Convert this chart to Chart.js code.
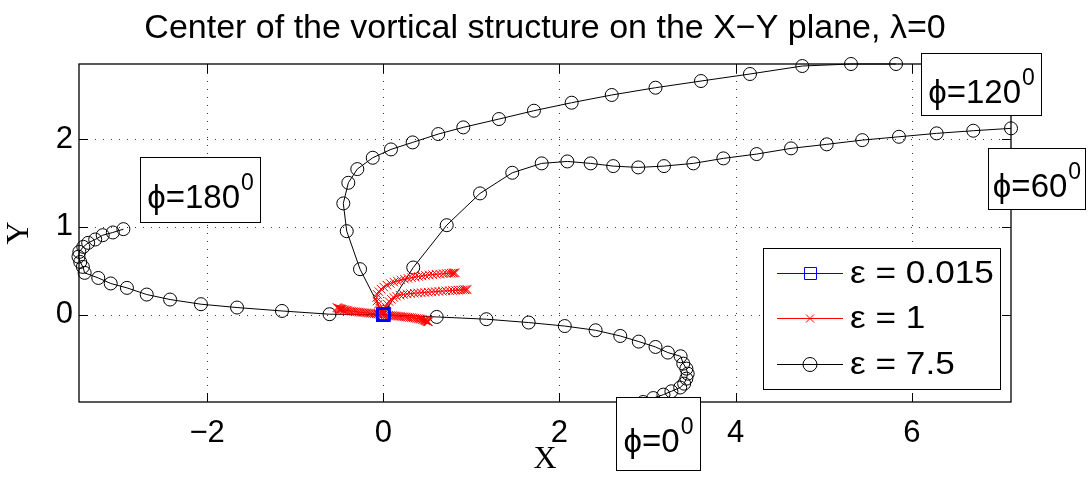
<!DOCTYPE html>
<html><head><meta charset="utf-8">
<script src="https://cdn.jsdelivr.net/npm/chart.js@4"></script>
<style>html,body{margin:0;padding:0;background:#fff;}#wrap{width:1091px;height:479px;}</style>
</head><body><div id="wrap"><canvas id="c" width="1091" height="479"></canvas></div>
<script>
const chartTitle = 'Center of the vortical structure on the X\u2212Y plane, \u03bb=0';
const xTicks = [-2, 0, 2, 4, 6];
const yTicks = [0, 1, 2];
const xLimits = [-3.454, 7.125];
const yLimits = [-0.995, 2.855];
const legendLabels = ['\u03b5 = 0.015', '\u03b5 = 1', '\u03b5 = 7.5'];

// epsilon = 7.5, four initial angles
const e75_phi0_x = [0, 0.606, 1.17, 1.65, 2.06, 2.41, 2.69, 2.90, 3.09, 3.23, 3.375, 3.405, 3.44, 3.455, 3.44, 3.415, 3.37, 3.27, 3.18, 3.065, 2.95];
const e75_phi0_y = [0, -0.026, -0.052, -0.09, -0.13, -0.178, -0.243, -0.307, -0.368, -0.432, -0.474, -0.558, -0.615, -0.672, -0.729, -0.786, -0.83, -0.873, -0.911, -0.95, -0.995];
const e75_phi60_x = [0, 0.34, 0.72, 1.098, 1.464, 1.798, 2.089, 2.354, 2.61, 2.894, 3.186, 3.519, 3.86, 4.238, 4.628, 5.033, 5.437, 5.853, 6.281, 6.697, 7.125];
const e75_phi60_y = [0, 0.537, 1.019, 1.381, 1.616, 1.723, 1.745, 1.723, 1.692, 1.677, 1.692, 1.723, 1.78, 1.829, 1.894, 1.94, 1.988, 2.026, 2.065, 2.095, 2.122];
const e75_phi120_x = [0, -0.264, -0.415, -0.454, -0.397, -0.295, -0.12, 0.087, 0.333, 0.624, 0.908, 1.313, 1.71, 2.138, 2.593, 3.09, 3.606, 4.162, 4.756, 5.309, 5.82];
const e75_phi120_y = [0, 0.518, 0.951, 1.267, 1.502, 1.658, 1.787, 1.882, 1.962, 2.057, 2.133, 2.228, 2.323, 2.414, 2.502, 2.585, 2.661, 2.741, 2.832, 2.855, 2.855];
const e75_phi180_x = [0, -0.61, -1.15, -1.66, -2.07, -2.42, -2.685, -2.91, -3.094, -3.235, -3.39, -3.41, -3.44, -3.46, -3.45, -3.405, -3.35, -3.27, -3.185, -3.07, -2.95];
const e75_phi180_y = [0, 0.005, 0.042, 0.081, 0.119, 0.172, 0.229, 0.305, 0.355, 0.418, 0.476, 0.544, 0.60, 0.66, 0.715, 0.772, 0.818, 0.856, 0.905, 0.936, 0.974];

// epsilon = 1, four initial angles
const e1_phi0_x = [0, 0.02, 0.04, 0.06, 0.08, 0.10, 0.12, 0.14, 0.16, 0.18, 0.20, 0.22, 0.24, 0.26, 0.28, 0.30, 0.32, 0.34, 0.36, 0.38, 0.40, 0.415, 0.43, 0.445, 0.46, 0.47, 0.48, 0.49, 0.497, 0.503, 0.508, 0.512];
const e1_phi0_y = [0, -0.003, -0.005, -0.007, -0.009, -0.011, -0.013, -0.015, -0.017, -0.019, -0.021, -0.023, -0.025, -0.027, -0.029, -0.031, -0.034, -0.037, -0.04, -0.043, -0.046, -0.049, -0.052, -0.056, -0.06, -0.063, -0.067, -0.071, -0.074, -0.077, -0.08, -0.083];
const e1_phi60_x = [0, 0.005, 0.015, 0.03, 0.045, 0.065, 0.09, 0.12, 0.15, 0.19, 0.23, 0.27, 0.31, 0.35, 0.39, 0.43, 0.47, 0.51, 0.55, 0.59, 0.63, 0.67, 0.71, 0.75, 0.785, 0.82, 0.85, 0.88, 0.905, 0.925, 0.94, 0.952];
const e1_phi60_y = [0, 0.03, 0.06, 0.09, 0.12, 0.15, 0.175, 0.195, 0.21, 0.222, 0.23, 0.236, 0.24, 0.244, 0.247, 0.25, 0.253, 0.256, 0.259, 0.262, 0.265, 0.268, 0.271, 0.273, 0.275, 0.277, 0.279, 0.281, 0.283, 0.284, 0.285, 0.286];
const e1_phi120_x = [0, -0.02, -0.04, -0.06, -0.072, -0.075, -0.068, -0.05, -0.025, 0.005, 0.04, 0.08, 0.12, 0.16, 0.2, 0.24, 0.28, 0.32, 0.36, 0.4, 0.44, 0.48, 0.52, 0.56, 0.6, 0.64, 0.68, 0.715, 0.745, 0.77, 0.79, 0.805, 0.818];
const e1_phi120_y = [0, 0.035, 0.075, 0.115, 0.155, 0.195, 0.23, 0.262, 0.29, 0.315, 0.337, 0.355, 0.37, 0.383, 0.394, 0.404, 0.413, 0.421, 0.428, 0.435, 0.441, 0.447, 0.452, 0.456, 0.46, 0.463, 0.466, 0.469, 0.471, 0.473, 0.474, 0.475, 0.476];
const e1_phi180_x = [0, -0.02, -0.04, -0.06, -0.08, -0.10, -0.12, -0.14, -0.16, -0.18, -0.20, -0.22, -0.24, -0.26, -0.28, -0.30, -0.32, -0.34, -0.36, -0.38, -0.40, -0.415, -0.43, -0.445, -0.46, -0.47, -0.48, -0.49, -0.5, -0.51, -0.518, -0.525];
const e1_phi180_y = [0, 0.003, 0.005, 0.007, 0.009, 0.011, 0.013, 0.015, 0.017, 0.019, 0.021, 0.023, 0.025, 0.027, 0.029, 0.031, 0.034, 0.037, 0.04, 0.043, 0.046, 0.049, 0.052, 0.055, 0.058, 0.061, 0.064, 0.067, 0.07, 0.073, 0.077, 0.081];

// epsilon = 0.015 (stays at the origin)
const e0015_x = [0, 0.002, -0.002, 0.001, -0.001];
const e0015_y = [0, 0.001, -0.001, 0.002, 0.0];

// text boxes (data coordinates of box corners)
const annoText = ['\u03d5=180', '\u03d5=120', '\u03d5=60', '\u03d5=0'];
const annoBoxes = [
  {x1: -2.762, x2: -1.400, y1: 1.795, y2: 1.054},
  {x1: 6.103, x2: 7.466, y1: 2.981, y2: 2.274},
  {x1: 6.864, x2: 7.965, y1: 1.897, y2: 1.201},
  {x1: 2.642, x2: 3.595, y1: -0.942, y2: -1.774}
];

function pts(xs, ys) { return xs.map((x, i) => ({x: x, y: ys[i]})); }

const FONT = '"Liberation Sans", Arial, Helvetica, sans-serif';
const SERIF = '"Liberation Serif", "Times New Roman", serif';

function blackSet(xs, ys) {
  return {data: pts(xs, ys), showLine: true, borderColor: '#000', borderWidth: 1,
    pointStyle: 'circle', pointRadius: 6.5, pointBorderWidth: 1, pointBorderColor: '#000',
    pointBackgroundColor: 'rgba(0,0,0,0)', clip: false, order: 3};
}
function redSet(xs, ys) {
  return {data: pts(xs, ys), showLine: true, borderColor: '#ff0000', borderWidth: 1,
    pointStyle: 'crossRot', pointRadius: 6, pointBorderWidth: 1, pointBorderColor: '#ff0000',
    pointBackgroundColor: 'rgba(0,0,0,0)', clip: false, order: 2};
}
const datasets = [
  {data: pts(e0015_x, e0015_y), showLine: true, borderColor: '#0000ff', borderWidth: 1,
   pointStyle: 'rect', pointRadius: 8.5, pointBorderWidth: 2, pointBorderColor: '#0000ff',
   pointBackgroundColor: 'rgba(0,0,0,0)', clip: false, order: 1},
  redSet(e1_phi0_x, e1_phi0_y), redSet(e1_phi60_x, e1_phi60_y),
  redSet(e1_phi120_x, e1_phi120_y), redSet(e1_phi180_x, e1_phi180_y),
  blackSet(e75_phi0_x, e75_phi0_y), blackSet(e75_phi60_x, e75_phi60_y),
  blackSet(e75_phi120_x, e75_phi120_y), blackSet(e75_phi180_x, e75_phi180_y)
];

const deco = {
  id: 'deco',
  beforeDatasetsDraw(chart) {
    const ctx = chart.ctx, a = chart.chartArea, xs = chart.scales.x, ys = chart.scales.y;
    ctx.save();
    ctx.strokeStyle = '#333';
    ctx.lineWidth = 1;
    ctx.setLineDash([1, 7]);
    xTicks.forEach(v => {
      const px = Math.round(xs.getPixelForValue(v)) + 0.5;
      ctx.beginPath(); ctx.moveTo(px, a.bottom); ctx.lineTo(px, a.top); ctx.stroke();
    });
    yTicks.forEach(v => {
      const py = Math.round(ys.getPixelForValue(v)) + 0.5;
      ctx.beginPath(); ctx.moveTo(a.left, py); ctx.lineTo(a.right, py); ctx.stroke();
    });
    ctx.restore();
  },
  afterDatasetsDraw(chart) {
    const ctx = chart.ctx, a = chart.chartArea, xs = chart.scales.x, ys = chart.scales.y;
    ctx.save();
    // frame
    ctx.strokeStyle = '#000'; ctx.lineWidth = 1.3; ctx.setLineDash([]);
    ctx.strokeRect(a.left, a.top, a.right - a.left, a.bottom - a.top);
    // inward ticks
    ctx.lineWidth = 1;
    const tl = 9;
    xTicks.forEach(v => {
      const px = Math.round(xs.getPixelForValue(v)) + 0.5;
      ctx.beginPath(); ctx.moveTo(px, a.bottom); ctx.lineTo(px, a.bottom - tl);
      ctx.moveTo(px, a.top); ctx.lineTo(px, a.top + tl); ctx.stroke();
    });
    yTicks.forEach(v => {
      const py = Math.round(ys.getPixelForValue(v)) + 0.5;
      ctx.beginPath(); ctx.moveTo(a.left, py); ctx.lineTo(a.left + tl, py);
      ctx.moveTo(a.right, py); ctx.lineTo(a.right - tl, py); ctx.stroke();
    });
    // annotation boxes
    annoBoxes.forEach((b, i) => {
      const l = Math.round(xs.getPixelForValue(b.x1)) + 0.5, r = Math.round(xs.getPixelForValue(b.x2)) + 0.5;
      const t = Math.round(ys.getPixelForValue(b.y1)) + 0.5, bt = Math.round(ys.getPixelForValue(b.y2)) + 0.5;
      ctx.fillStyle = '#fff'; ctx.fillRect(l, t, r - l, bt - t);
      ctx.strokeStyle = '#000'; ctx.lineWidth = 1; ctx.strokeRect(l, t, r - l, bt - t);
      ctx.fillStyle = '#000';
      ctx.textAlign = 'left'; ctx.textBaseline = 'alphabetic';
      ctx.font = '33px ' + FONT;
      const w1 = ctx.measureText(annoText[i]).width;
      ctx.font = '23px ' + FONT;
      const w2 = ctx.measureText('0').width;
      const x0 = l + ((r - l) - (w1 + w2 + 1)) / 2;
      const base = (t + bt) / 2 + 18;
      ctx.font = '33px ' + FONT;
      ctx.fillText(annoText[i], x0, base);
      ctx.font = '23px ' + FONT;
      ctx.fillText('0', x0 + w1 + 1, base - 18);
    });
    // legend
    const L = 763.5, T = 248.5, R = 1000.5, B = 389.5;
    ctx.fillStyle = '#fff'; ctx.fillRect(L, T, R - L, B - T);
    ctx.strokeStyle = '#000'; ctx.lineWidth = 1; ctx.strokeRect(L, T, R - L, B - T);
    const rows = [273, 318, 364];
    const cols = ['#0000ff', '#ff0000', '#000'];
    rows.forEach((ry, i) => {
      ctx.strokeStyle = cols[i]; ctx.lineWidth = 1;
      ctx.beginPath(); ctx.moveTo(777, ry + 0.5); ctx.lineTo(843, ry + 0.5); ctx.stroke();
      ctx.beginPath();
      if (i === 0) { ctx.rect(804.5, ry - 5.5, 12, 12); }
      else if (i === 1) { ctx.moveTo(806, ry - 3.5); ctx.lineTo(814, ry + 4.5); ctx.moveTo(814, ry - 3.5); ctx.lineTo(806, ry + 4.5); }
      else { ctx.arc(810, ry + 0.5, 7, 0, Math.PI * 2); }
      ctx.stroke();
      ctx.save();
      ctx.translate(850, ry + 1);
      ctx.scale(1.1, 1);
      ctx.fillStyle = '#000'; ctx.font = '32px ' + FONT; ctx.textBaseline = 'middle'; ctx.textAlign = 'left';
      ctx.fillText(legendLabels[i], 0, 0);
      ctx.restore();
    });
    ctx.restore();
  },
  afterDraw(chart) {
    const ctx = chart.ctx, a = chart.chartArea;
    ctx.save();
    ctx.fillStyle = '#000'; ctx.font = '34px ' + FONT; ctx.textAlign = 'center'; ctx.textBaseline = 'alphabetic';
    ctx.fillText(chartTitle, (a.left + a.right) / 2, 38);
    ctx.restore();
  }
};

new Chart(document.getElementById('c'), {
  type: 'scatter',
  data: {datasets: datasets},
  plugins: [deco],
  options: {
    responsive: false, animation: false, devicePixelRatio: 1,
    layout: {padding: {left: 0, right: 80, top: 64, bottom: 0}},
    plugins: {legend: {display: false}, tooltip: {enabled: false}, title: {display: false}},
    scales: {
      x: {type: 'linear', min: xLimits[0], max: xLimits[1],
        afterBuildTicks: s => { s.ticks = xTicks.map(v => ({value: v})); },
        afterFit: s => { s.height = 77; },
        grid: {display: false, drawTicks: false}, border: {display: false},
        ticks: {color: '#000', padding: 13, font: {family: FONT, size: 31},
          callback: v => String(v).replace('-', '\u2212')},
        title: {display: true, text: 'X', color: '#000', font: {family: SERIF, size: 32}, padding: {top: 0, bottom: 0}}},
      y: {type: 'linear', min: yLimits[0], max: yLimits[1],
        afterBuildTicks: s => { s.ticks = yTicks.map(v => ({value: v})); },
        afterFit: s => { s.width = 79; },
        grid: {display: false, drawTicks: false}, border: {display: false},
        ticks: {color: '#000', padding: 6, font: {family: FONT, size: 31},
          callback: v => String(v).replace('-', '\u2212')},
        title: {display: true, text: 'Y', color: '#000', font: {family: SERIF, size: 32}, padding: {top: 0, bottom: 0}}}
    }
  }
});
</script></body></html>
